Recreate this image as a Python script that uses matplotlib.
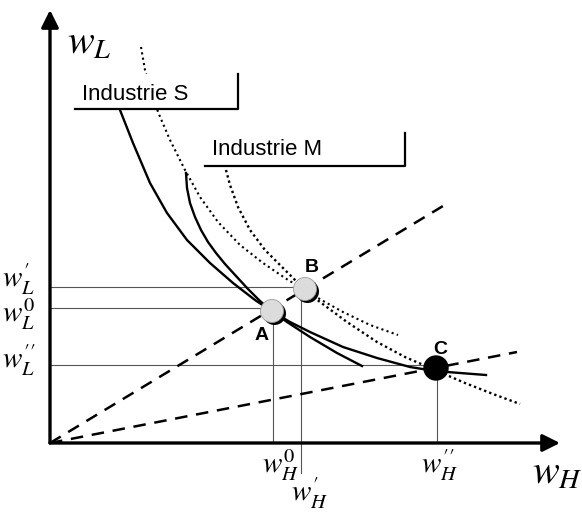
import matplotlib
matplotlib.use('Agg')
import matplotlib.pyplot as plt
from matplotlib.patches import Circle, Rectangle

plt.rcParams['font.family'] = ['Liberation Sans', 'DejaVu Sans']
plt.rcParams['mathtext.fontset'] = 'stix'

# curves, origin at the axis corner
s_solid_x = [70, 83, 100, 117, 137, 160, 183, 205, 223, 240, 260, 293, 327, 360, 385, 410, 436]
s_solid_y = [333, 300, 260, 230, 203, 180, 160, 143, 131, 121, 111, 96, 85, 76, 72, 70, 68]

m_solid_x = [136, 137, 140, 145, 151, 158, 166, 175, 186, 198, 210, 223, 237, 260, 287, 312]
m_solid_y = [270, 255, 240, 226, 213, 201, 190, 179, 167, 154, 142, 131, 121, 106, 90, 77]

s_dot_x = [91, 95, 108, 120, 135, 150, 168, 190, 213, 235, 256, 275, 293, 320, 348]
s_dot_y = [396, 373, 331, 303, 273, 246, 221, 198, 180, 165, 152, 141, 131, 118, 108]

m_dot_x = [176, 180, 188, 200, 215, 233, 256, 270, 297, 327, 355, 385, 415, 443, 470]
m_dot_y = [273, 258, 236, 213, 193, 175, 152, 141, 121, 101, 86, 73, 60, 49, 39]

# rays from the origin (end points)
ray_x = [398, 467]
ray_y = [240, 91]

# equilibrium points A, B, C
pt_names = ['A', 'B', 'C']
pt_x = [222, 255, 386]
pt_y = [132, 154, 75]

# guide levels
wl_levels = [135, 156, 78]
wl_labels = [r'$w^{0}_{L}$', r'$w^{\prime}_{L}$', r'$w^{\prime\prime}_{L}$']
wh_levels = [223, 251, 387]
wh_labels = [r'$w^{0}_{H}$', r'$w^{\prime}_{H}$', r'$w^{\prime\prime}_{H}$']

fig = plt.figure(figsize=(5.82, 5.12), dpi=100)
ax = fig.add_axes([0, 0, 1, 1])
ax.set_xlim(-50, 532)
ax.set_ylim(-69, 443)
ax.axis('off')

# thin guide lines
for i in range(3):
    ax.plot([0, pt_x[i]], [wl_levels[i], wl_levels[i]], color='#555555', lw=0.8, zorder=1)
    y0 = -30 if i == 1 else 0
    ax.plot([wh_levels[i], wh_levels[i]], [y0, pt_y[i]], color='#555555', lw=0.8, zorder=1)

# dashed rays
for i in range(2):
    ax.plot([0, ray_x[i]], [0, ray_y[i]], color='k', lw=1.8, ls=(0, (5, 3.5)), zorder=2)

# curves
ax.plot(s_solid_x, s_solid_y, color='k', lw=1.7, zorder=3)
ax.plot(m_solid_x, m_solid_y, color='k', lw=1.7, zorder=3)
ax.plot(s_dot_x, s_dot_y, color='k', lw=1.5, ls=(0, (1, 1.6)), zorder=3)
ax.plot(m_dot_x, m_dot_y, color='k', lw=1.7, ls=(0, (1, 1.3)), zorder=3)

# axes with arrows
ax.annotate('', xy=(0, 433), xytext=(0, 0),
            arrowprops=dict(arrowstyle='-|>', lw=2.4, color='k', mutation_scale=26,
                            shrinkA=0, shrinkB=0), zorder=5)
ax.annotate('', xy=(510, 0), xytext=(0, 0),
            arrowprops=dict(arrowstyle='-|>', lw=2.4, color='k', mutation_scale=26,
                            shrinkA=0, shrinkB=0), zorder=5)

# industry labels
ax.add_patch(Rectangle((25, 334), 163, 35, fc='white', ec='none', zorder=4))
ax.plot([25, 188, 188], [334, 334, 369], color='k', lw=1.6, zorder=5)
ax.text(32, 343, 'Industrie S', fontsize=16, ha='left', va='baseline', zorder=6)

ax.add_patch(Rectangle((155, 277), 200, 33, fc='white', ec='none', zorder=4))
ax.plot([155, 355, 355], [277, 277, 310], color='k', lw=1.6, zorder=5)
ax.text(162, 288, 'Industrie M', fontsize=16, ha='left', va='baseline', zorder=6)

# points
for i in range(3):
    if pt_names[i] == 'C':
        ax.add_patch(Circle((pt_x[i], pt_y[i]), 12, fc='k', ec='k', zorder=7))
    else:
        ax.add_patch(Circle((pt_x[i] + 2.5, pt_y[i] - 2.5), 11.5, fc='k', ec='none', zorder=7))
        ax.add_patch(Circle((pt_x[i], pt_y[i]), 11.5, fc='#dcdcdc', ec='#9a9a9a', lw=0.6, zorder=8))

lab_dx = [-10, 7, 4]
lab_dy = [-25, 22, 19]
for i in range(3):
    ax.text(pt_x[i] + lab_dx[i], pt_y[i] + lab_dy[i], pt_names[i], fontsize=14,
            fontweight='bold', ha='center', va='center', zorder=9)

# axis names
ax.text(17, 389, r'$w_L$', fontsize=29, ha='left', va='baseline')
ax.text(482, -41, r'$w_H$', fontsize=29, ha='left', va='baseline')

# level labels
wl_base = [121, 156, 75]
for i in range(3):
    ax.text(-15, wl_base[i], wl_labels[i], fontsize=21, ha='right', va='baseline')
wh_left = [212, 241, 371]
wh_base = [-30, -58, -30]
for i in range(3):
    ax.text(wh_left[i], wh_base[i], wh_labels[i], fontsize=21, ha='left', va='baseline')

fig.savefig('out.png', dpi=100)
